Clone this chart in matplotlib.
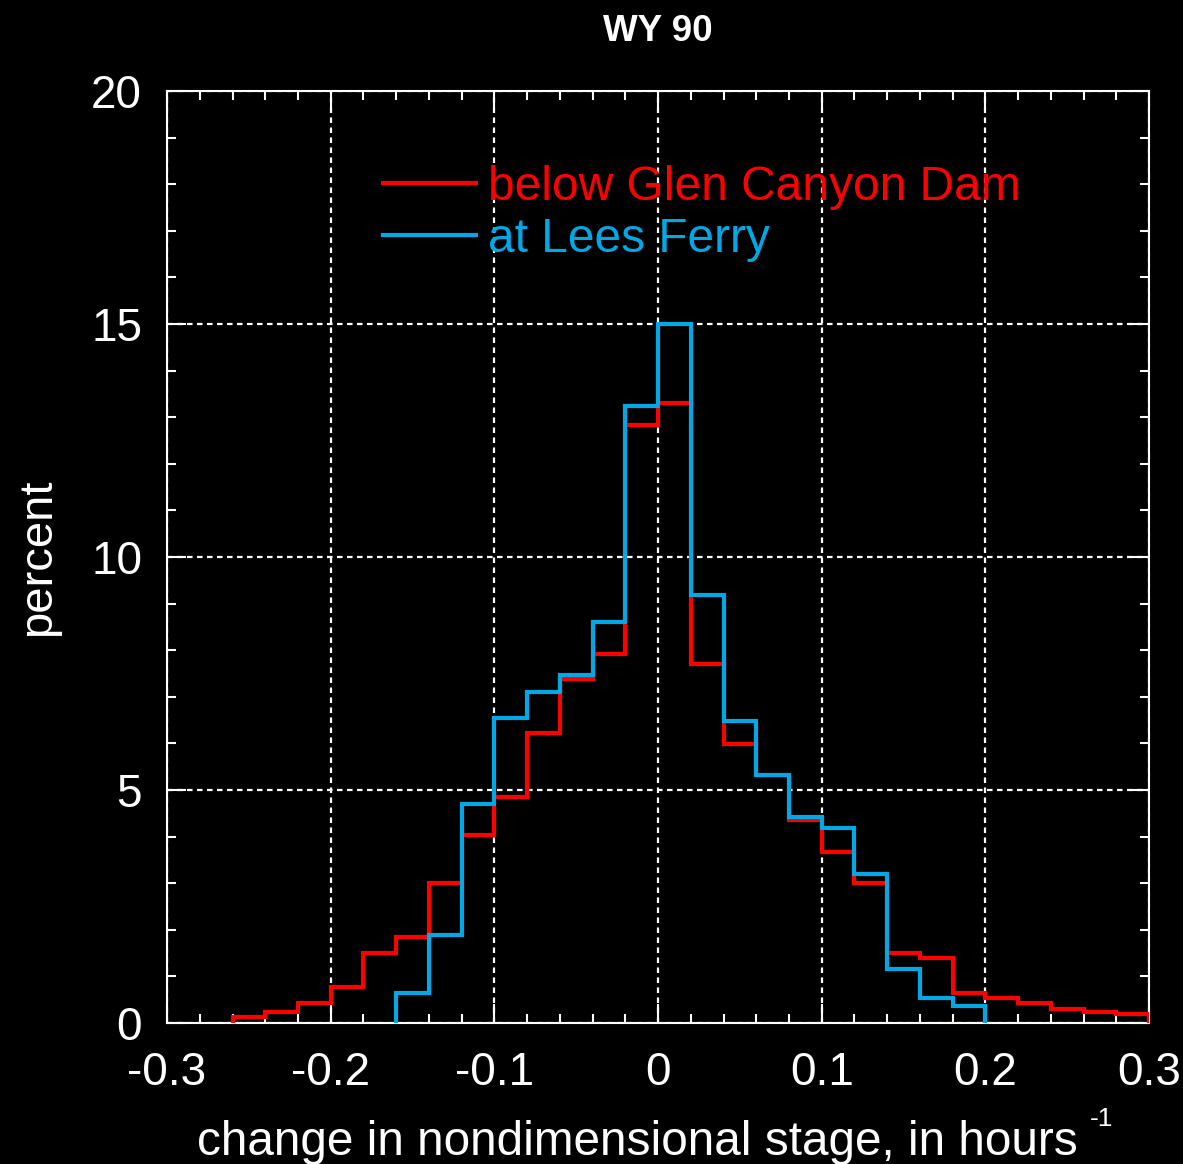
import matplotlib
matplotlib.use("Agg")
import matplotlib.pyplot as plt
from matplotlib.lines import Line2D
import numpy as np

# histogram bins, width 0.02 (nondimensional stage change per hour)
bin_width = 0.02
red_first_edge = -0.26
blue_first_edge = -0.16

# percent of hours in each bin
below_dam = [0.13, 0.24, 0.43, 0.78, 1.51, 1.85, 3.00, 4.03, 4.84, 6.22,
             7.38, 7.91, 12.83, 13.30, 7.70, 5.98, 5.33, 4.36, 3.68, 3.00,
             1.51, 1.39, 0.65, 0.54, 0.43, 0.30, 0.24, 0.19]
lees_ferry = [0.64, 1.89, 4.71, 6.54, 7.11, 7.47, 8.61, 13.24, 15.00, 9.18,
              6.49, 5.32, 4.43, 4.18, 3.20, 1.17, 0.53, 0.36]

series_names = ["below Glen Canyon Dam", "at Lees Ferry"]
x_ticks = [-0.3, -0.2, -0.1, 0, 0.1, 0.2, 0.3]
x_ticklabels = ["-0.3", "-0.2", "-0.1", "0", "0.1", "0.2", "0.3"]
y_ticks = [0, 5, 10, 15, 20]

RED = "#ff0000"
BLUE = "#00a8e6"

plt.rcParams["font.family"] = ["Liberation Sans", "DejaVu Sans"]

red_edges = np.round(red_first_edge + bin_width * np.arange(len(below_dam) + 1), 2)
blue_edges = np.round(blue_first_edge + bin_width * np.arange(len(lees_ferry) + 1), 2)

fig = plt.figure(figsize=(11.83, 11.64), dpi=100, facecolor="black")
ax = fig.add_axes([0.1412, 0.1211, 0.8301, 0.8007], facecolor="black")

ax.stairs(below_dam, red_edges, baseline=0, color=RED, linewidth=3, zorder=3)
ax.stairs(lees_ferry, blue_edges, baseline=0, color=BLUE, linewidth=3, zorder=4)

ax.set_xlim(-0.3, 0.3)
ax.set_ylim(0, 20)
ax.set_xticks(x_ticks)
ax.set_xticklabels(x_ticklabels)
ax.set_xticks(np.arange(-0.3, 0.301, 0.02), minor=True)
ax.set_yticks(y_ticks)
ax.set_yticks(np.arange(0, 21, 1), minor=True)

for s in ax.spines.values():
    s.set_color("white")
    s.set_linewidth(1.5)

ax.tick_params(which="both", direction="in", top=True, right=True,
               colors="white", width=1.5)
ax.tick_params(which="major", length=14, labelsize=33)
ax.tick_params(which="minor", length=6.5)
ax.tick_params(axis="x", which="major", pad=20)
ax.tick_params(axis="y", which="major", pad=18)

ax.grid(True, which="major", color="white", linestyle=(0, (2.5, 2)), linewidth=1.6)
ax.set_axisbelow(True)

# x label with a separate small "-1" superscript
ax.set_xlabel("change in nondimensional stage, in hours", fontsize=34.4, color="white")
ax.xaxis.set_label_coords(0.479, -0.104)
ax.text(0.94, -0.103, "-1", transform=ax.transAxes, fontsize=19,
        color="white", ha="left", va="center")
ax.set_ylabel("percent", fontsize=34, color="white", labelpad=22)
ax.set_title("WY 90", fontsize=26.5, fontweight="bold", color="white", pad=36)

handles = [Line2D([], [], color=RED, linewidth=3),
           Line2D([], [], color=BLUE, linewidth=3)]
leg = ax.legend(handles, series_names, loc="upper left",
                bbox_to_anchor=(0.22, 0.921), frameon=False, fontsize=34.5,
                handlelength=1.93, handletextpad=0.25, labelspacing=0.15,
                borderpad=0, borderaxespad=0)
for txt, c in zip(leg.get_texts(), [RED, BLUE]):
    txt.set_color(c)

fig.savefig("out.png", dpi=100, facecolor="black")
